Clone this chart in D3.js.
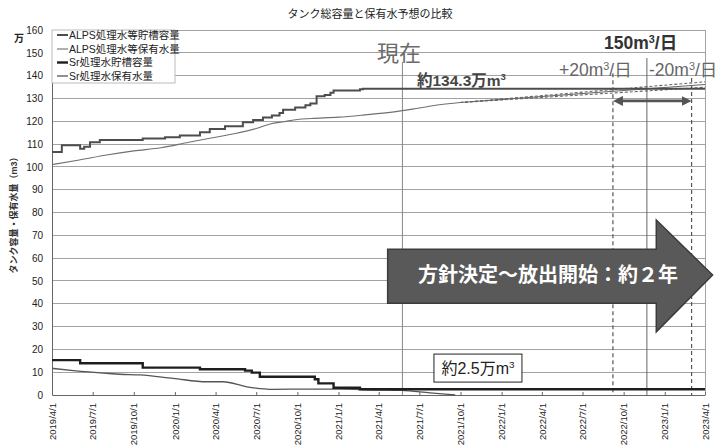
<!DOCTYPE html>
<html><head><meta charset="utf-8">
<script src="https://cdn.jsdelivr.net/npm/d3@7"></script>
<style>
body{margin:0;background:#fff}
svg{display:block}
text{font-family:"Liberation Sans","Noto Sans CJK JP",sans-serif}
</style>
</head><body>
<svg id="chart" width="728" height="446"></svg>
<script>
// ---- data (万m3) ----
const chartTitle = "タンク総容量と保有水予想の比較";
const seriesNames = ["ALPS処理水等貯槽容量", "ALPS処理水等保有水量", "Sr処理水貯槽容量", "Sr処理水保有水量"];
const xTickLabels = ["2019/4/1","2019/7/1","2019/10/1","2020/1/1","2020/4/1","2020/7/1","2020/10/1","2021/1/1",
  "2021/4/1","2021/7/1","2021/10/1","2022/1/1","2022/4/1","2022/7/1","2022/10/1","2023/1/1","2023/4/1"];
const yTicks = [0,10,20,30,40,50,60,70,80,90,100,110,120,130,140,150,160];

const alpsCapacity = [
  ["2019-04-01",106.5],["2019-04-23",109.5],["2019-06-03",108.0],["2019-06-12",108.8],["2019-06-25",110.8],
  ["2019-07-17",111.8],["2019-10-21",112.4],["2019-12-10",113.0],["2020-01-12",113.8],["2020-02-26",115.2],
  ["2020-03-19",116.6],["2020-04-22",117.8],["2020-06-01",119.6],["2020-06-24",120.6],["2020-07-16",121.6],
  ["2020-08-05",122.5],["2020-08-22",123.6],["2020-08-30",125.0],["2020-09-26",126.0],["2020-10-19",127.0],
  ["2020-10-30",127.8],["2020-11-13",131.0],["2020-12-01",131.5],["2020-12-14",132.5],["2020-12-21",133.5],
  ["2021-02-18",134.0],["2021-02-25",134.3],["2023-04-01",134.3]
];
const alpsStored = [
  ["2019-04-01",101.0],["2019-06-01",103.0],["2019-08-01",105.2],["2019-10-01",107.0],["2019-12-01",108.4],
  ["2020-02-01",110.8],["2020-04-01",113.0],["2020-05-15",114.6],["2020-07-01",116.8],["2020-08-01",118.8],
  ["2020-09-01",119.8],["2020-10-01",120.8],["2020-11-01",121.2],["2021-01-01",121.8],["2021-03-01",122.8],
  ["2021-05-01",124.0],["2021-07-01",125.8],["2021-08-15",127.2],["2021-09-30",128.2]
];
const srCapacity = [
  ["2019-04-01",15.3],["2019-06-03",13.9],["2019-10-21",12.0],["2020-02-26",11.3],["2020-06-06",10.7],
  ["2020-06-21",9.8],["2020-07-09",8.0],["2020-11-09",6.9],["2020-11-17",5.1],["2020-12-21",3.2],
  ["2021-02-18",2.5],["2023-04-01",2.5]
];
const srStored = [
  ["2019-04-01",11.7],["2019-05-19",10.7],["2019-08-01",9.5],["2019-08-31",9.1],["2019-10-15",8.8],
  ["2019-12-28",7.3],["2020-03-12",5.8],["2020-04-18",5.8],["2020-06-10",3.6],["2020-08-09",2.5],
  ["2020-10-22",2.6],["2021-01-04",2.6],["2021-03-20",2.2],["2021-05-22",2.0],["2021-07-25",0.9],
  ["2021-09-19",0.0]
];
// forecast of stored water: 150 m3/day, +20 and -20 m3/day
const forecastBase  = [["2021-09-30",128.2],["2023-04-01",136.1]];
const forecastPlus  = [["2021-09-30",128.2],["2023-04-01",137.3]];
const forecastMinus = [["2021-09-30",128.2],["2023-04-01",134.9]];

// reference dates
const nowDate = "2021-05-24";
const fullDatePlus = "2022-09-07";
const fullDateBase = "2022-11-22";
const fullDateMinus = "2023-03-02";

// ---- setup ----
const parse = d3.timeParse("%Y-%m-%d");
const parseTick = d3.timeParse("%Y/%m/%d");
const svg = d3.select("#chart");
const L = 52, R = 705, T = 30, B = 395;

const x = d3.scaleTime().domain([parse("2019-04-01"), parse("2023-04-01")]).range([L, R]);
const y = d3.scaleLinear().domain([0, 160]).range([B, T]);

// title
svg.append("text").attr("x", 370).attr("y", 18).attr("text-anchor", "middle")
  .attr("font-size", 11).attr("fill", "#222").text(chartTitle);

// gridlines
svg.append("g").selectAll("line").data(yTicks.filter(v => v > 0)).join("line")
  .attr("x1", L).attr("x2", R).attr("y1", d => y(d)).attr("y2", d => y(d))
  .attr("stroke", "#a3a3a3").attr("stroke-width", 1).attr("shape-rendering", "crispEdges");
// right frame
svg.append("line").attr("x1", R).attr("x2", R).attr("y1", T).attr("y2", B)
  .attr("stroke", "#a3a3a3").attr("shape-rendering", "crispEdges");

// y axis
const yAxis = svg.append("g").attr("transform", `translate(${L},0)`)
  .call(d3.axisLeft(y).tickValues(yTicks).tickSize(0).tickPadding(9));
yAxis.select(".domain").attr("stroke", "#666");
yAxis.selectAll("text").attr("font-size", 10).attr("fill", "#222")
  .attr("font-family", "'Liberation Sans',sans-serif");

// x axis
const xTicks = xTickLabels.map(s => parseTick(s));
const xAxis = svg.append("g").attr("transform", `translate(0,${B})`)
  .call(d3.axisBottom(x).tickValues(xTicks).tickSize(-3).tickSizeOuter(0).tickFormat((d, i) => xTickLabels[i]));
xAxis.select(".domain").attr("stroke", "#666");
xAxis.selectAll(".tick line").attr("stroke", "#666");
xAxis.selectAll("text").attr("font-size", 9.5).attr("fill", "#222")
  .attr("transform", "rotate(-90)").attr("text-anchor", "end")
  .attr("x", -8).attr("y", 0).attr("dy", "0.33em");

// axis titles
svg.append("text").attr("x", 14).attr("y", 42).attr("font-size", 10).attr("font-weight", "bold")
  .attr("fill", "#222").text("万");
svg.append("text").attr("transform", "translate(17,213) rotate(-90)").attr("text-anchor", "middle")
  .attr("font-size", 9).attr("font-weight", "bold").attr("fill", "#333").text("タンク容量・保有水量（m3）");

// series
const pts = arr => arr.map(([d, v]) => [parse(d), v]);
const step = d3.line().x(d => x(d[0])).y(d => y(d[1])).curve(d3.curveStepAfter);
const smooth = d3.line().x(d => x(d[0])).y(d => y(d[1])).curve(d3.curveMonotoneX);
const straight = d3.line().x(d => x(d[0])).y(d => y(d[1]));

const styles = [
  {stroke: "#4d4d4d", width: 2},
  {stroke: "#707070", width: 1.1},
  {stroke: "#1e1e1e", width: 2.4},
  {stroke: "#555", width: 1.3}
];

// vertical reference lines
svg.append("line").attr("x1", x(parse(nowDate))).attr("x2", x(parse(nowDate)))
  .attr("y1", y(146)).attr("y2", B).attr("stroke", "#888").attr("stroke-width", 1);
svg.append("line").attr("x1", x(parse(fullDateBase))).attr("x2", x(parse(fullDateBase)))
  .attr("y1", y(147.7)).attr("y2", B).attr("stroke", "#666").attr("stroke-width", 1);
[[fullDatePlus, 141], [fullDateMinus, 139]].forEach(([d, top]) => {
  svg.append("line").attr("x1", x(parse(d))).attr("x2", x(parse(d)))
    .attr("y1", y(top)).attr("y2", B).attr("stroke", "#555").attr("stroke-width", 1.2)
    .attr("stroke-dasharray", "4,3");
});

// forecast lines
svg.append("path").attr("d", straight(pts(forecastBase))).attr("fill", "none")
  .attr("stroke", "#666").attr("stroke-width", 1.1);
[forecastPlus, forecastMinus].forEach(f => {
  svg.append("path").attr("d", straight(pts(f))).attr("fill", "none")
    .attr("stroke", "#666").attr("stroke-width", 1.1).attr("stroke-dasharray", "3,2");
});

svg.append("path").attr("d", smooth(pts(srStored))).attr("fill", "none")
  .attr("stroke", styles[3].stroke).attr("stroke-width", styles[3].width);
svg.append("path").attr("d", smooth(pts(alpsStored))).attr("fill", "none")
  .attr("stroke", styles[1].stroke).attr("stroke-width", styles[1].width);
svg.append("path").attr("d", step(pts(srCapacity))).attr("fill", "none")
  .attr("stroke", styles[2].stroke).attr("stroke-width", styles[2].width);
svg.append("path").attr("d", step(pts(alpsCapacity))).attr("fill", "none")
  .attr("stroke", styles[0].stroke).attr("stroke-width", styles[0].width);

// legend
const lg = svg.append("g");
lg.append("rect").attr("x", L).attr("y", T).attr("width", 123).attr("height", 53)
  .attr("fill", "#fff").attr("stroke", "#bbb");
const rowsY = [35, 49, 62.5, 76];
seriesNames.forEach((n, i) => {
  lg.append("line").attr("x1", 57).attr("x2", 68).attr("y1", rowsY[i]).attr("y2", rowsY[i])
    .attr("stroke", styles[i].stroke).attr("stroke-width", styles[i].width);
  lg.append("text").attr("x", 69).attr("y", rowsY[i]).attr("dy", "0.36em")
    .attr("font-size", 10.5).attr("fill", "#222").text(n);
});

// annotations
const sup = (sel, base, tail, size) => {
  sel.append("tspan").text(base);
  sel.append("tspan").attr("dy", -size * 0.36).attr("font-size", size * 0.62).text("3");
  sel.append("tspan").attr("dy", size * 0.36).text(tail);
};
svg.append("text").attr("x", 377).attr("y", 61).attr("font-size", 22).attr("fill", "#6a6a6a")
  .attr("font-family", "'Noto Sans CJK JP',sans-serif").text("現在");
sup(svg.append("text").attr("x", 417).attr("y", 86).attr("font-size", 15.5).attr("font-weight", "bold")
  .attr("fill", "#444"), "約134.3万m", "", 15.5);
sup(svg.append("text").attr("x", 604).attr("y", 49).attr("font-size", 17.5).attr("font-weight", "bold")
  .attr("fill", "#333"), "150m", "/日", 17.5);
sup(svg.append("text").attr("x", 559).attr("y", 76).attr("font-size", 17.5).attr("fill", "#666"), "+20m", "/日", 17.5);
sup(svg.append("text").attr("x", 649).attr("y", 76).attr("font-size", 17.5).attr("fill", "#666"), "-20m", "/日", 17.5);

// double-headed arrow between the two dashed dates
const defs = svg.append("defs");
["s", "e"].forEach(k => {
  defs.append("marker").attr("id", "ah" + k).attr("viewBox", "0 0 10 10").attr("refX", 5).attr("refY", 5)
    .attr("markerWidth", 3.6).attr("markerHeight", 3.6).attr("orient", k === "s" ? "auto-start-reverse" : "auto")
    .append("path").attr("d", "M0,0 L10,5 L0,10 z").attr("fill", "#555");
});
svg.append("line").attr("x1", x(parse(fullDatePlus)) + 5).attr("x2", x(parse(fullDateMinus)) - 5)
  .attr("y1", y(128.9)).attr("y2", y(128.9)).attr("stroke", "#555").attr("stroke-width", 2.8)
  .attr("marker-start", "url(#ahs)").attr("marker-end", "url(#ahe)");

// big block arrow
const ax0 = x(parse("2021-04-21")), axH = x(parse("2022-12-13")), axTip = x(parse("2023-04-18"));
const bodyTop = y(63.9), bodyBot = y(40.2), headTop = y(76.7), headBot = y(27.7), mid = y(52.6);
svg.append("path")
  .attr("d", `M${ax0},${bodyTop} L${axH},${bodyTop} L${axH},${headTop} L${axTip},${mid} L${axH},${headBot} L${axH},${bodyBot} L${ax0},${bodyBot} Z`)
  .attr("fill", "#595959").attr("stroke", "#3c3c3c").attr("stroke-width", 1.5);
svg.append("text").attr("x", 548).attr("y", mid).attr("dy", "0.36em").attr("text-anchor", "middle")
  .attr("font-size", 20).attr("font-weight", "bold").attr("fill", "#fff")
  .attr("font-family", "'Noto Sans CJK JP',sans-serif").text("方針決定～放出開始：約２年");

// Sr remaining label
const boxCx = x(parse("2021-11-09")), boxCy = y(11.8);
svg.append("rect").attr("x", boxCx - 44).attr("y", boxCy - 14).attr("width", 88).attr("height", 28)
  .attr("fill", "#fff").attr("stroke", "#222").attr("stroke-width", 1);
sup(svg.append("text").attr("x", boxCx).attr("y", boxCy).attr("dy", "0.38em").attr("text-anchor", "middle")
  .attr("font-size", 16).attr("fill", "#222"), "約2.5万m", "", 16);
</script>
</body></html>
